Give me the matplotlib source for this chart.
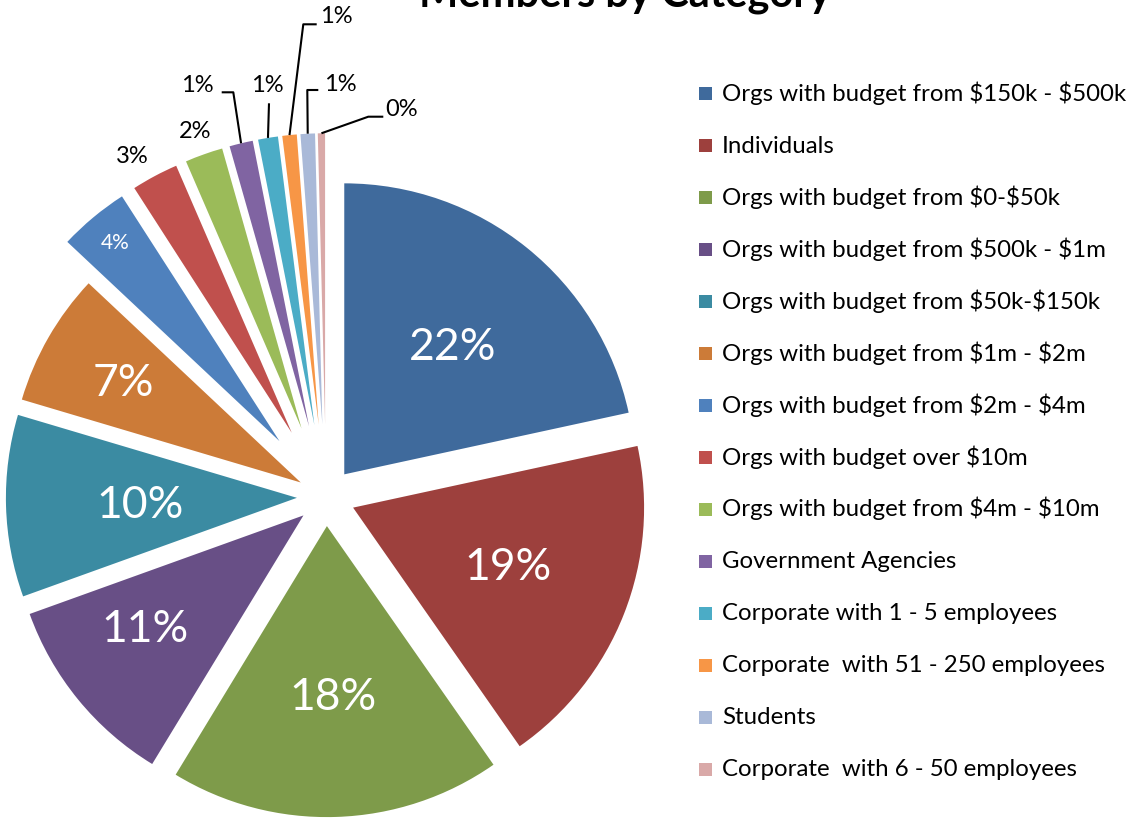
import matplotlib
matplotlib.use("Agg")
import matplotlib.pyplot as plt
from matplotlib.patches import Rectangle
import numpy as np

plt.rcParams['font.family'] = ['Lato', 'DejaVu Sans']

# ---------------- data ----------------
title = "Members by Category"
categories = [
    "Orgs with budget from $150k - $500k",
    "Individuals",
    "Orgs with budget from $0-$50k",
    "Orgs with budget from $500k - $1m",
    "Orgs with budget from $50k-$150k",
    "Orgs with budget from $1m - $2m",
    "Orgs with budget from $2m - $4m",
    "Orgs with budget over $10m",
    "Orgs with budget from $4m - $10m",
    "Government Agencies",
    "Corporate with 1 - 5 employees",
    "Corporate  with 51 - 250 employees",
    "Students",
    "Corporate  with 6 - 50 employees",
]
values = [21.6, 18.7, 18.4, 10.8, 10.1, 7.4, 3.9, 2.6, 2.1, 1.3, 1.1, 0.8, 0.8, 0.4]

# ---------------- style ----------------
colors = ["#3F6A9C", "#9D403D", "#7E9B4A", "#684F86", "#3B8BA2", "#CC7B38",
          "#4F81BD", "#C0504D", "#9BBB59", "#8064A2", "#4BACC6", "#F79646",
          "#A9B9D8", "#D9A9A8"]
explode_frac = [0.1] * 6 + [0.25] * 8

W, H = 1129, 823
CX, CY, R = 326, 326, 291

fig = plt.figure(figsize=(W / 100, H / 100), dpi=100)
ax = fig.add_axes([0, 0, 1, 1])

wedges, texts, autotexts = ax.pie(
    values, colors=colors, startangle=90, counterclock=False,
    explode=[f * R for f in explode_frac], center=(CX, CY), radius=R,
    autopct=lambda p: f"{p:.0f}%", pctdistance=0.58,
    wedgeprops=dict(linewidth=0), textprops=dict(color="white", fontsize=32))

ax.set_xlim(0, W)
ax.set_ylim(0, H)
ax.set_aspect('equal')
ax.axis('off')

# inside label positions (pixel layout, from top-left)
inside_pos = {0: (453, 347), 1: (508, 567), 2: (333, 697), 3: (145, 630),
              4: (140, 505), 5: (123, 383), 6: (115, 243)}
for i, (px, py) in inside_pos.items():
    autotexts[i].set_position((px, H - py))
autotexts[6].set_fontsize(15)

# outside labels with leader lines: (text pos, elbow points) in pixel layout
outside = {
    7: ((132.5, 156.5), None),
    8: ((195, 131.5), None),
    9: ((197.5, 85), [(221.7, 92.3), (233.3, 92.3)]),
    10: ((267, 85), [(269, 103.3)]),
    11: ((336, 16), [(316.7, 24.3), (303.3, 24.3)]),
    12: ((340.5, 84), [(318.3, 90), (307.3, 90)]),
    13: ((401.7, 109.5), [(383.3, 116.7), (368.3, 116.7)]),
}
for i, (tpos, elbow) in outside.items():
    t = autotexts[i]
    t.set_color("black")
    t.set_fontsize(17)
    t.set_position((tpos[0], H - tpos[1]))
    if elbow:
        w = wedges[i]
        th = np.deg2rad((w.theta1 + w.theta2) / 2)
        ex = w.center[0] + R * np.cos(th)
        ey = w.center[1] + R * np.sin(th)
        xs = [p[0] for p in elbow] + [ex]
        ys = [H - p[1] for p in elbow] + [ey]
        ax.plot(xs, ys, color="black", lw=1.5, solid_capstyle='butt')

# title (mostly cropped at top)
ax.text(625, H - 6, title, ha="center", va="baseline", fontsize=30,
        fontweight="bold", color="black")

# legend
LX, TX, Y0, DY, SQ = 699, 722, 100.5, 52, 13
for k, (lab, col) in enumerate(zip(categories, colors)):
    yb = Y0 + k * DY
    ax.add_patch(Rectangle((LX, H - yb + 1), SQ, SQ, facecolor=col, edgecolor="none"))
    ax.text(TX, H - yb, lab, ha="left", va="baseline", fontsize=17.3,
            color="black", parse_math=False)

fig.savefig("out.png", dpi=100)
